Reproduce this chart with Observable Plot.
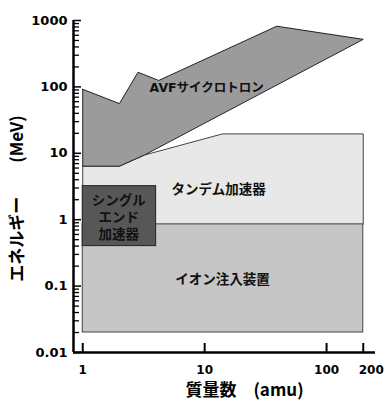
<!DOCTYPE html>
<html>
<head>
<meta charset="utf-8">
<script src="https://cdn.jsdelivr.net/npm/d3@7"></script>
<script src="https://cdn.jsdelivr.net/npm/@observablehq/plot@0.6"></script>
<style>
  html, body { margin: 0; padding: 0; background: #fff; }
</style>
</head>
<body>
<div id="chart"></div>
<script>
// Axis domains and ticks
const xDomain = [0.84, 252];
const yDomain = [0.01, 1000];
const xTicks = [1, 10, 100, 200];
const xTickLabels = ["1", "10", "100", "200"];
const yTicks = [0.01, 0.1, 1, 10, 100, 1000];
const yTickLabels = ["0.01", "0.1", "1", "10", "100", "1000"];
const yMinorTicks = [0.02,0.03,0.04,0.05,0.06,0.07,0.08,0.09,
  0.2,0.3,0.4,0.5,0.6,0.7,0.8,0.9,
  2,3,4,5,6,7,8,9,
  20,30,40,50,60,70,80,90,
  200,300,400,500,600,700,800,900];

// Regions (mass in amu, energy in MeV)
const avfMass   = [1, 2, 2.84, 4.2, 39, 200, 3.2, 2, 1, 1];
const avfEnergy = [92, 56, 166, 125, 820, 520, 9.4, 6.4, 6.4, 92];

const tandemMass   = [1, 2, 3.2, 14, 200, 200, 1, 1];
const tandemEnergy = [6.4, 6.4, 9.4, 19.6, 19.6, 0.85, 0.85, 6.4];

const ionMass = [1, 200];
const ionEnergy = [0.02, 0.85];

const singleMass = [1, 4];
const singleEnergy = [0.4, 3.2];

// Labels
const labelNames = ["AVFサイクロトロン", "タンデム加速器", "シングル\nエンド\n加速器", "イオン注入装置"];
const labelMass = [10.4, 13, 1.97, 14];
const labelEnergy = [98, 2.95, 1.12, 0.13];

const xTitle = "質量数　(amu)";
const yTitle = "エネルギー　　(MeV)";

const pts = (xs, ys) => xs.map((m, i) => ({m, e: ys[i]}));

const latin = "'DejaVu Sans', 'Noto Sans CJK JP', sans-serif";
const cjk = "'Noto Sans CJK JP', sans-serif";

const xLab = xTicks.map((v, i) => ({v, t: xTickLabels[i]}));

const chart = Plot.plot({
  width: 387,
  height: 400,
  marginLeft: 73,
  marginRight: 12,
  marginTop: 20,
  marginBottom: 48,
  x: {type: "log", domain: xDomain, label: null},
  y: {type: "log", domain: yDomain, label: null},
  style: {fontFamily: latin, fontWeight: "bold", background: "#fff", color: "#000"},
  marks: [
    Plot.line(pts(tandemMass, tandemEnergy), {x: "m", y: "e", fill: "#e8e8e8", stroke: "#444", strokeWidth: 1, curve: "linear"}),
    Plot.line(pts(avfMass, avfEnergy), {x: "m", y: "e", fill: "#9b9b9b", stroke: "#222", strokeWidth: 1, curve: "linear"}),
    Plot.rect([0], {x1: () => ionMass[0], x2: () => ionMass[1], y1: () => ionEnergy[0], y2: () => ionEnergy[1], fill: "#c6c6c6", stroke: "#444", strokeWidth: 1}),
    Plot.rect([0], {x1: () => singleMass[0], x2: () => singleMass[1], y1: () => singleEnergy[0], y2: () => singleEnergy[1], fill: "#575757", stroke: "#222", strokeWidth: 1}),
    Plot.text(labelNames.map((t, i) => ({t, m: labelMass[i], e: labelEnergy[i]})), {
      x: "m", y: "e", text: "t", fontSize: (d, i) => i === 0 ? 12.5 : 13.5, lineHeight: 1.25,
      fill: "#111", fontWeight: "bold", fontFamily: latin
    }),
    // axis lines
    Plot.ruleY([yDomain[0]], {stroke: "#000", strokeWidth: 2.5}),
    Plot.ruleX([xDomain[0]], {stroke: "#000", strokeWidth: 2.5}),
    // y ticks
    Plot.axisY(yMinorTicks, {tickSize: -6, text: null, label: null, strokeWidth: 1.3, stroke: "#000"}),
    Plot.axisY(yTicks, {tickSize: -8, text: null, label: null, strokeWidth: 1.5, stroke: "#000"}),
    Plot.axisY(yTicks, {tickSize: 0, tickPadding: 6, label: null, fontSize: 13, fill: "#000", fontFamily: latin, fontWeight: "bold",
      tickFormat: d => yTickLabels[yTicks.indexOf(d)]}),
    // x ticks
    Plot.axisX(xTicks, {tickSize: -9, text: null, label: null, strokeWidth: 2, stroke: "#000"}),
    Plot.text(xLab.slice(0, 3), {x: "v", text: "t", frameAnchor: "bottom", lineAnchor: "middle", dy: 18, fontSize: 12, fill: "#000", fontFamily: latin, fontWeight: "bold"}),
    Plot.text(xLab.slice(3), {x: "v", text: "t", frameAnchor: "bottom", lineAnchor: "middle", dy: 18, dx: 8, fontSize: 12, fill: "#000", fontFamily: latin, fontWeight: "bold"}),
    // axis titles
    Plot.text([xTitle], {frameAnchor: "bottom", textAnchor: "middle", lineAnchor: "middle", dx: 20, dy: 38, fontSize: 17, fontFamily: cjk, fontWeight: "bold", fill: "#000"}),
    Plot.text([yTitle], {frameAnchor: "left", textAnchor: "middle", lineAnchor: "middle", rotate: -90, dx: -56, dy: 12, fontSize: 17, fontFamily: cjk, fontWeight: "bold", fill: "#000"})
  ]
});
document.getElementById("chart").appendChild(chart);
</script>
</body>
</html>
